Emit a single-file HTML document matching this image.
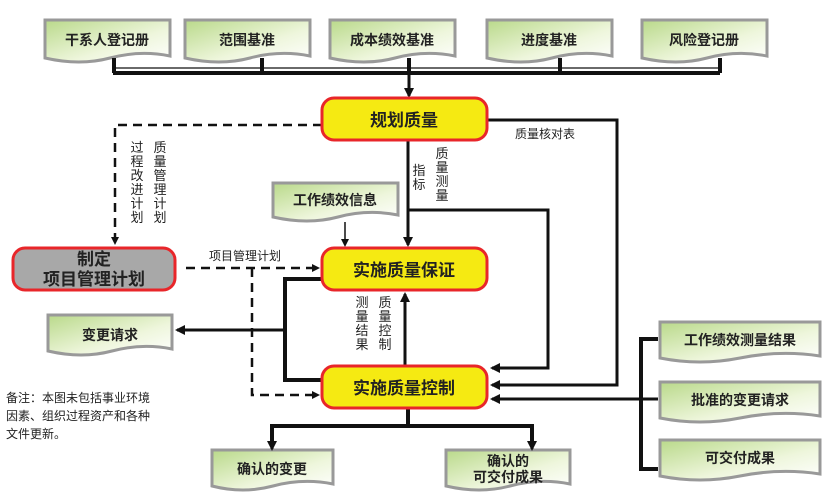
<!DOCTYPE html>
<html><head><meta charset="utf-8"><style>
html,body{margin:0;padding:0;background:#fff;}
svg{display:block;font-family:"Liberation Sans","Noto Sans CJK SC",sans-serif;}
.t{font-size:14px;font-weight:bold;fill:#222;}
.s{font-size:12px;fill:#222;}
.b{font-size:17px;font-weight:bold;fill:#222;}
</style></head><body>
<svg width="830" height="495" viewBox="0 0 830 495" xmlns="http://www.w3.org/2000/svg">
<defs>
<linearGradient id="g" x1="0" y1="0" x2="1" y2="1">
<stop offset="0" stop-color="#b9d98a"/><stop offset="0.6" stop-color="#eef6dc"/><stop offset="1" stop-color="#ffffff"/>
</linearGradient>
<marker id="a" markerWidth="8" markerHeight="8" refX="6" refY="4" orient="auto" markerUnits="userSpaceOnUse"><path d="M0,0 L8,4 L0,8 Z" fill="#111"/></marker>
<marker id="a2" markerWidth="10" markerHeight="10" refX="8" refY="5" orient="auto" markerUnits="userSpaceOnUse"><path d="M0,0 L10,5 L0,10 Z" fill="#111"/></marker>
</defs>
<g stroke="#999" stroke-width="3" fill="url(#g)">
<path d="M45,20 H170 V56 Q140,50 110,58 Q80,66 45,58 Z"/>
<path d="M185,20 H310 V56 Q280,50 250,58 Q220,66 185,58 Z"/>
<path d="M330,20 H455 V56 Q425,50 395,58 Q365,66 330,58 Z"/>
<path d="M487,20 H612 V56 Q582,50 552,58 Q522,66 487,58 Z"/>
<path d="M642,20 H767 V56 Q737,50 707,58 Q677,66 642,58 Z"/>
<path d="M273,183 H398 V215 Q368,209 338,217 Q308,225 273,217 Z"/>
<path d="M48,315 H172 V349 Q142,343 112,351 Q82,359 48,351 Z"/>
<path d="M660,322 H820 V356 Q780,350 740,358 Q700,366 660,358 Z"/>
<path d="M660,382 H820 V416 Q780,410 740,418 Q700,426 660,418 Z"/>
<path d="M660,440 H820 V474 Q780,468 740,476 Q700,484 660,476 Z"/>
<path d="M212,450 H333 V484 Q303,478 273,486 Q243,494 212,486 Z"/>
<path d="M446,450 H570 V484 Q540,478 510,486 Q480,494 446,486 Z"/>
</g>
<g text-anchor="middle" class="t">
<text x="107" y="45">干系人登记册</text>
<text x="247" y="45">范围基准</text>
<text x="392" y="45">成本绩效基准</text>
<text x="549" y="45">进度基准</text>
<text x="704" y="45">风险登记册</text>
<text x="335" y="205">工作绩效信息</text>
<text x="110" y="340">变更请求</text>
<text x="740" y="345">工作绩效测量结果</text>
<text x="740" y="405">批准的变更请求</text>
<text x="740" y="463">可交付成果</text>
<text x="272" y="474">确认的变更</text>
<text x="508" y="466">确认的</text>
<text x="508" y="482">可交付成果</text>
</g>
<!-- top bus -->
<g stroke="#111" fill="none">
<line x1="113" y1="68" x2="722" y2="68" stroke-width="1.2"/>
<line x1="113" y1="73" x2="720" y2="73" stroke-width="4"/>
<line x1="114" y1="58" x2="114" y2="73" stroke-width="4"/>
<line x1="262" y1="58" x2="262" y2="73" stroke-width="4"/>
<line x1="409" y1="58" x2="409" y2="73" stroke-width="4"/>
<line x1="560" y1="58" x2="560" y2="73" stroke-width="4"/>
<line x1="720" y1="58" x2="720" y2="73" stroke-width="4"/>
<line x1="409" y1="73" x2="409" y2="96" stroke-width="3" marker-end="url(#a2)"/>
<!-- dashed -->
<path d="M322,125 H115 V243" stroke-width="2.5" stroke-dasharray="9,6" marker-end="url(#a)"/>
<path d="M186,268 H318" stroke-width="2.5" stroke-dasharray="9,6" marker-end="url(#a)"/>
<path d="M252,268 V395 H318" stroke-width="2.5" stroke-dasharray="9,6" marker-end="url(#a)"/>
<!-- checklist line -->
<path d="M487,120 H617 V385 H492" stroke-width="3" marker-end="url(#a2)"/>
<!-- center -->
<line x1="408" y1="140" x2="408" y2="245" stroke-width="3" marker-end="url(#a2)"/>
<path d="M408,210 H548 V368 H492" stroke-width="3" marker-end="url(#a2)"/>
<line x1="345" y1="222" x2="345" y2="245" stroke-width="1.5" marker-end="url(#a)"/>
<!-- loop -->
<path d="M322,279 H285 V380 H322" stroke-width="4"/>
<line x1="285" y1="330" x2="177" y2="330" stroke-width="3" marker-end="url(#a2)"/>
<line x1="405" y1="365" x2="405" y2="294" stroke-width="3" marker-end="url(#a2)"/>
<!-- right -->
<path d="M658,339 H641 V469 H658" stroke-width="4"/>
<line x1="658" y1="399" x2="492" y2="399" stroke-width="3" marker-end="url(#a2)"/>
<!-- bottom -->
<line x1="408" y1="408" x2="408" y2="426" stroke-width="4"/>
<path d="M272,447 V426 H532 V447" stroke-width="4"/>
<line x1="272" y1="436" x2="272" y2="449" stroke-width="3" marker-end="url(#a2)"/>
<line x1="532" y1="436" x2="532" y2="449" stroke-width="3" marker-end="url(#a2)"/>
</g>
<!-- process boxes -->
<g stroke="#e8262a" stroke-width="3">
<rect x="322" y="98" width="165" height="42" rx="12" fill="#f5ea12"/>
<rect x="322" y="248" width="165" height="42" rx="12" fill="#f5ea12"/>
<rect x="322" y="366" width="165" height="42" rx="12" fill="#f5ea12"/>
<rect x="13" y="248" width="162" height="42" rx="12" fill="#a8a8a8"/>
</g>
<g text-anchor="middle" class="b">
<text x="404" y="126">规划质量</text>
<text x="404" y="276">实施质量保证</text>
<text x="404" y="394">实施质量控制</text>
<text x="94" y="265">制定</text>
<text x="94" y="285">项目管理计划</text>
</g>
<g class="s" text-anchor="middle">
<text x="545" y="138">质量核对表</text>
<text x="245" y="260">项目管理计划</text>
<g font-size="13">
<text x="137" y="152">过</text><text x="137" y="166">程</text><text x="137" y="180">改</text><text x="137" y="194">进</text><text x="137" y="208">计</text><text x="137" y="222">划</text>
<text x="160" y="152">质</text><text x="160" y="166">量</text><text x="160" y="180">管</text><text x="160" y="194">理</text><text x="160" y="208">计</text><text x="160" y="222">划</text>
<text x="419" y="175">指</text><text x="419" y="189">标</text>
<text x="442" y="158">质</text><text x="442" y="172">量</text><text x="442" y="186">测</text><text x="442" y="200">量</text>
<text x="362" y="307">测</text><text x="362" y="321">量</text><text x="362" y="335">结</text><text x="362" y="349">果</text>
<text x="385" y="307">质</text><text x="385" y="321">量</text><text x="385" y="335">控</text><text x="385" y="349">制</text>
</g>
</g>
<g class="s">
<text x="6" y="402">备注：本图未包括事业环境</text>
<text x="6" y="420">因素、组织过程资产和各种</text>
<text x="6" y="438">文件更新。</text>
</g>
</svg>
</body></html>
